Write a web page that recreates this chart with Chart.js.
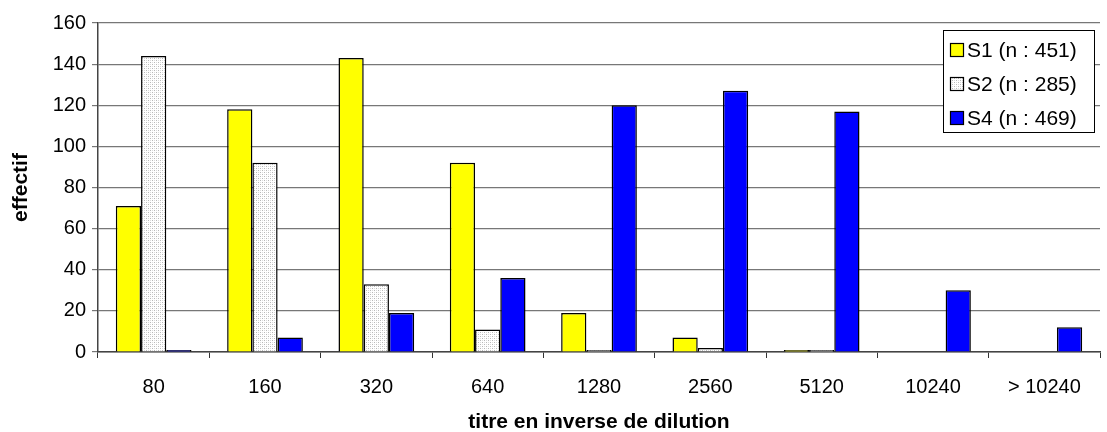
<!DOCTYPE html>
<html>
<head>
<meta charset="utf-8">
<script src="https://cdn.jsdelivr.net/npm/chart.js@4/dist/chart.umd.min.js"></script>
<style>
  html, body { margin: 0; padding: 0; background: #fff; }
  #wrap { width: 1107px; height: 432px; }
</style>
</head>
<body>
<div id="wrap"><canvas id="myBarChart" width="1107" height="432"></canvas></div>
<script>
  // data
  var categories = ['80', '160', '320', '640', '1280', '2560', '5120', '10240', '> 10240'];
  var s1 = [71, 118, 143, 92, 19, 7, 1, 0, 0];
  var s2 = [144, 92, 33, 11, 1, 2, 1, 0, 0];
  var s4 = [1, 7, 19, 36, 120, 127, 117, 30, 12];
  var seriesLabels = ['S1 (n : 451)', 'S2 (n : 285)', 'S4 (n : 469)'];
  var yTicks = [0, 20, 40, 60, 80, 100, 120, 140, 160];

  var FONT = '"Liberation Sans", Arial, sans-serif';

  // dotted grey fill for S2
  function dotPattern() {
    var c = document.createElement('canvas');
    c.width = 4; c.height = 4;
    var g = c.getContext('2d');
    g.fillStyle = '#ffffff';
    g.fillRect(0, 0, 4, 4);
    g.fillStyle = '#b8b8b8';
    g.fillRect(0, 0, 1, 1);
    g.fillRect(2, 2, 1, 1);
    g.fillStyle = '#dcdcdc';
    g.fillRect(2, 0, 1, 1);
    g.fillRect(0, 2, 1, 1);
    return g.createPattern(c, 'repeat');
  }
  var s2Fill = dotPattern();

  // legend box drawn inside the plot, top right
  var boxLegend = {
    id: 'boxLegend',
    afterDraw: function(chart) {
      var ctx = chart.ctx;
      var area = chart.chartArea;
      var w = 151, h = 102;
      var x = area.right - 6 - w, y = area.top + 7;
      ctx.save();
      ctx.fillStyle = '#fff';
      ctx.fillRect(x, y, w, h);
      ctx.strokeStyle = '#000';
      ctx.lineWidth = 1;
      ctx.strokeRect(x + 0.5, y + 0.5, w, h);
      ctx.font = '21px ' + FONT;
      ctx.textBaseline = 'middle';
      chart.data.datasets.forEach(function(ds, i) {
        var cy = y + 20 + i * 34;
        ctx.fillStyle = ds.backgroundColor;
        ctx.fillRect(x + 7, cy - 7, 14, 14);
        ctx.strokeStyle = '#000';
        ctx.lineWidth = 1.2;
        ctx.strokeRect(x + 7.5, cy - 6.5, 13, 13);
        ctx.fillStyle = '#000';
        ctx.fillText(ds.label, x + 24, cy + 1);
      });
      ctx.restore();
    }
  };

  var ctx = document.getElementById('myBarChart').getContext('2d');
  var myBarChart = new Chart(ctx, {
    type: 'bar',
    data: {
      labels: categories,
      datasets: [
        { label: seriesLabels[0], data: s1, backgroundColor: '#ffff00', borderColor: '#000', borderWidth: 1.5 },
        { label: seriesLabels[1], data: s2, backgroundColor: s2Fill, borderColor: '#000', borderWidth: 1.5 },
        { label: seriesLabels[2], data: s4, backgroundColor: '#0000ff', borderColor: '#000', borderWidth: 1.5 }
      ]
    },
    options: {
      responsive: false,
      animation: false,
      layout: { padding: { top: 23, right: 7, left: 0, bottom: 0 } },
      datasets: { bar: { barPercentage: 1, categoryPercentage: 0.68 } },
      plugins: {
        legend: { display: false },
        tooltip: { enabled: false }
      },
      scales: {
        x: {
          offset: true,
          grid: { offset: true, drawOnChartArea: false, color: '#333', tickLength: 6 },
          border: { color: '#444', width: 1.5 },
          ticks: { color: '#000', font: { family: FONT, size: 20 }, padding: 17, maxRotation: 0, autoSkip: false },
          title: { display: true, text: 'titre en inverse de dilution', color: '#000',
                   font: { family: FONT, size: 21, weight: 'bold' }, padding: { top: 0, bottom: -3 } },
          afterFit: function(scale) { scale.height = 80; }
        },
        y: {
          min: 0, max: 160,
          afterBuildTicks: function(scale) {
            scale.ticks = yTicks.map(function(v) { return { value: v }; });
          },
          grid: { color: '#777', lineWidth: 1.2, tickLength: 6 },
          border: { color: '#444', width: 1.5 },
          ticks: { color: '#000', font: { family: FONT, size: 20 }, padding: 6 },
          title: { display: true, text: 'effectif', color: '#000',
                   font: { family: FONT, size: 21, weight: 'bold' }, padding: { top: 9, bottom: 0 } },
          afterFit: function(scale) { scale.width = 98; }
        }
      }
    },
    plugins: [boxLegend]
  });
</script>
</body>
</html>
